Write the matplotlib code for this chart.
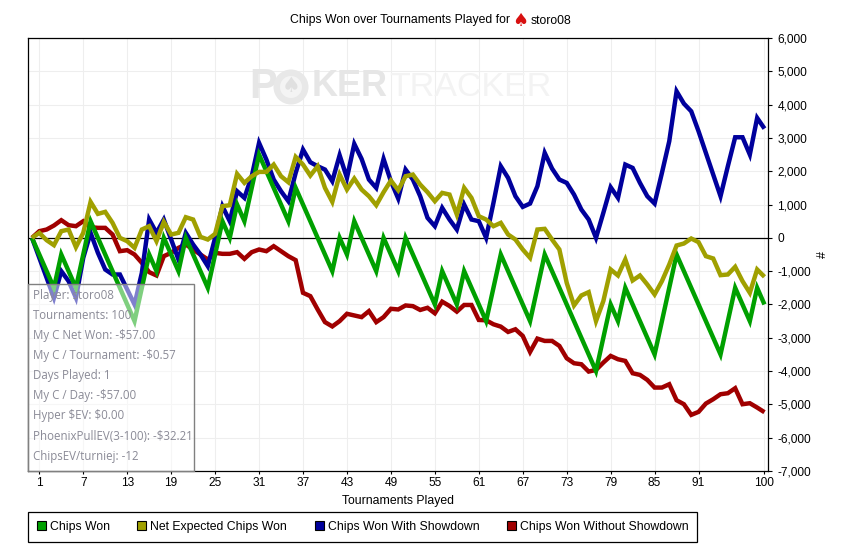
import matplotlib
matplotlib.use("Agg")
import matplotlib.pyplot as plt
from matplotlib.patches import Rectangle, Circle, Patch
from matplotlib.ticker import FixedLocator, FixedFormatter

tournaments = list(range(0, 101))
chips_won = [0,-500,-1000,-1500,-500,-1000,-1500,-500,500,0,-500,-1000,-1500,-2000,-2500,-1500,-500,-1000,0,-500,
 -1000,0,-500,-1000,-1500,-500,500,0,1000,500,1500,2500,2000,1500,1000,500,1500,1000,500,0,-500,-1000,0,-500,500,0,-500,-1000,0,-500,
 -1000,0,-500,-1000,-1500,-2000,-1000,-1500,-2000,-1000,-1500,-2000,-2500,-1500,-500,-1000,-1500,-2000,-2500,-1500,-500,-1000,-1500,-2000,-2500,-3000,-3500,-4000,-3000,-2000,
 -2500,-1500,-2000,-2500,-3000,-3500,-2500,-1500,-500,-1000,-1500,-2000,-2500,-3000,-3500,-2500,-1500,-2000,-2500,-1500,-2000]
net_expected = [0,150,-70,-220,200,250,-280,150,1080,720,780,450,0,-100,-300,250,350,-100,480,100,
 150,620,550,30,-50,120,950,980,1920,1650,1850,1980,1980,2200,1850,1670,2430,2200,1870,2150,1500,1080,1900,1450,1780,1450,1250,980,1370,1720,
 1430,1850,1900,1600,1370,1100,1350,1300,700,1500,1200,650,550,350,450,100,-50,-350,-600,250,270,-50,-350,-1350,-2030,-1730,-1630,-2500,-1900,-950,
 -1130,-650,-1280,-1130,-1400,-1700,-1300,-800,-230,-170,-20,-130,-550,-620,-1120,-1100,-870,-1300,-1650,-950,-1170]
with_showdown = [0,-600,-1200,-1800,-1000,-1300,-1800,-600,150,-450,-950,-1100,-1100,-1550,-2000,-1050,550,150,550,-50,
 -650,150,-200,-500,-850,0,950,500,1400,1200,1850,2850,2350,1750,1400,1100,1950,2650,2270,2150,2050,1700,2480,1800,2820,2370,1750,1500,2370,1700,
 1180,2050,1750,1250,600,350,900,550,250,1000,550,500,0,1050,2150,1800,1250,930,1030,1550,2550,2080,1750,1650,1300,850,550,0,750,1520,
 1200,2200,2100,1650,1250,1030,1950,2900,4400,4030,3800,3200,2550,1900,1250,2150,3020,3020,2500,3600,3280]
without_showdown = [0,200,250,370,530,380,350,500,320,300,300,100,-400,-370,-500,-750,-1030,-1130,-550,-450,
 -300,-200,-350,-500,-650,-450,-480,-480,-430,-630,-430,-350,-400,-250,-400,-550,-670,-1650,-1750,-2150,-2530,-2660,-2500,-2280,-2330,-2380,-2200,-2530,-2380,-2130,
 -2150,-2030,-2050,-2165,-2100,-2265,-1915,-2045,-2215,-2015,-2015,-2465,-2475,-2595,-2665,-2825,-2745,-2945,-3425,-3025,-3095,-3095,-3245,-3615,-3765,-3795,-4015,-3965,-3745,-3545,
 -3645,-3695,-4065,-4115,-4265,-4495,-4495,-4395,-4875,-4995,-5315,-5225,-4975,-4845,-4695,-4665,-4515,-4995,-4965,-5095,-5235]

x_ticks = [1,7,13,19,25,31,37,43,49,55,61,67,73,79,85,91,100]
y_ticks = [6000,5000,4000,3000,2000,1000,0,-1000,-2000,-3000,-4000,-5000,-6000,-7000]
y_labels = ["6,000","5,000","4,000","3,000","2,000","1,000","0","-1,000","-2,000","-3,000","-4,000","-5,000","-6,000","-7,000"]
series_names = ["Chips Won","Net Expected Chips Won","Chips Won With Showdown","Chips Won Without Showdown"]
series_colors = ["#00A000","#A0A000","#00009C","#A00000"]
info_lines = ["Player: storo08","Tournaments: 100","My C Net Won: -\\$57.00","My C / Tournament: -\\$0.57","Days Played: 1",
              "My C / Day: -\\$57.00","Hyper \\$EV: \\$0.00","PhoenixPullEV(3-100): -\\$32.21","ChipsEV/turniej: -12"]

W, H = 847, 555
plt.rcParams['font.family'] = ['Liberation Sans', 'DejaVu Sans']
fig = plt.figure(figsize=(W/100, H/100), dpi=100, facecolor='white')
fx = lambda p: p / W
fy = lambda p: 1 - p / H

L, R, T, B = 27.9, 768.0, 38.0, 471.0
ax = fig.add_axes([fx(L), fy(B), (R-L)/W, (B-T)/H])
ax.set_xlim(1 - (39.3-L)/7.325, 1 + (R-39.3)/7.325)
ax.set_ylim(-7000, 6000)
ax.yaxis.tick_right()
ax.xaxis.set_major_locator(FixedLocator(x_ticks))
ax.yaxis.set_major_locator(FixedLocator(y_ticks))
ax.yaxis.set_major_formatter(FixedFormatter(y_labels))
ax.tick_params(axis='y', length=3.2, width=0.8, labelsize=8.6, pad=3.5, colors='black')
ax.tick_params(axis='x', length=2, width=0.8, labelsize=8.6, pad=2.5, colors='black')
ax.grid(True, color='#EEEEEE', lw=0.8, zorder=0)
ax.set_axisbelow(True)
for s in ax.spines.values():
    s.set_linewidth(0.9)
    s.set_zorder(6)
ax.axhline(0, color='black', lw=0.9, zorder=1.5)

order = [3, 2, 0, 1]
all_series = [chips_won, net_expected, with_showdown, without_showdown]
for z, i in enumerate(order):
    ax.plot(tournaments, all_series[i], color=series_colors[i], lw=3.2, zorder=3+z*0.1,
            solid_joinstyle='miter', solid_capstyle='butt', clip_on=True)

ax.set_xlabel("Tournaments Played", fontsize=8.8, labelpad=0)
ax.xaxis.set_label_coords((398-L)/(R-L), -(495-B)/(B-T), transform=ax.transAxes)
fig.text(fx(823), fy(255), "#", rotation=90, fontsize=9, ha='center', va='center')

# title
fig.text(fx(290), fy(20.5), "Chips Won over Tournaments Played for", fontsize=8.8, ha='left', va='center')
fig.text(fx(520), fy(20.5), "\u2660", fontsize=13, color='#D81010', ha='center', va='center', family='DejaVu Sans')
fig.text(fx(530.5), fy(20.5), "storo08", fontsize=8.8, ha='left', va='center')

# watermark
wm = dict(va='center', zorder=1, transform=fig.transFigure)
ax.text(fx(249), fy(87), "P", color='#E6E6E6', fontweight='bold', ha='left', fontsize=30, **wm)
ax.add_patch(Circle((291, H-87), 17.5, transform=None, facecolor='#E8E8E8', edgecolor='none', zorder=1))
ax.add_patch(Circle((291, H-87), 11, transform=None, facecolor='#F4F4F4', edgecolor='none', zorder=1.05))
ax.text(fx(291), fy(86), "\u2660", color='#E0E0E0', fontsize=15, ha='center', va='center', family='DejaVu Sans', zorder=1.1, transform=fig.transFigure)
ax.text(fx(312), fy(87), "KER", color='#E6E6E6', fontweight='bold', ha='left', fontsize=26, **wm)
ax.text(fx(389), fy(87), "TRACKER", color='#F3F3F3', ha='left', fontsize=24.5, **wm)

# info box
fig.add_artist(Rectangle((fx(L), fy(B)), (193.5-L)/W, (B-283.5)/H, transform=fig.transFigure,
                         facecolor=(1,1,1,0.5), edgecolor='#808080', lw=1, zorder=5))
for k, line in enumerate(info_lines):
    fig.text(fx(33.3), fy(295.8 + k*20.03), line, fontsize=8.3, color='#8A8A96', family='Open Sans',
             ha='left', va='center', zorder=6)

# legend
handles = [Patch(facecolor=c, edgecolor='black', lw=0.8) for c in series_colors]
leg = fig.legend(handles, series_names, ncol=4, loc='upper left', bbox_to_anchor=(fx(L), fy(512)),
                 borderaxespad=0, fontsize=8.8, frameon=True, fancybox=False, edgecolor='black', framealpha=1,
                 handlelength=0.74, handleheight=0.74, handletextpad=0.33, columnspacing=2.25,
                 borderpad=0.72)
leg.get_frame().set_linewidth(0.9)

fig.savefig("out.png", dpi=100)
